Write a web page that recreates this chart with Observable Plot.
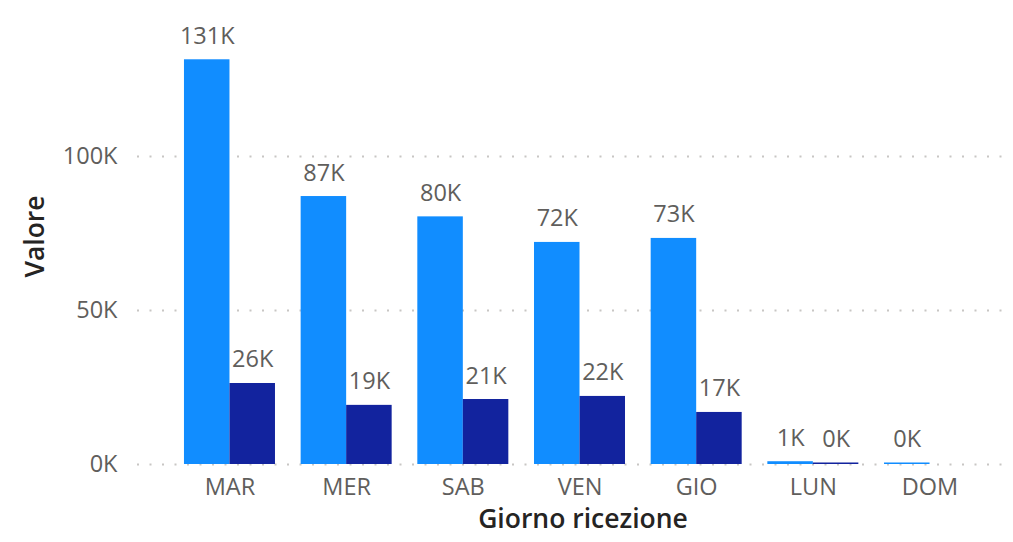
<!DOCTYPE html>
<html>
<head>
<meta charset="utf-8">
<script src="https://cdn.jsdelivr.net/npm/d3@7"></script>
<script src="https://cdn.jsdelivr.net/npm/@observablehq/plot@0.6"></script>
<style>
  html, body { margin: 0; padding: 0; background: #fff; }
  #chart svg { display: block; }
</style>
</head>
<body>
<div id="chart"></div>
<script>
// Data
const days = ["MAR", "MER", "SAB", "VEN", "GIO", "LUN", "DOM"];
const seriesA = [131400, 87000, 80400, 72100, 73400, 900, 490];   // light blue
const seriesB = [26300, 19200, 21100, 22100, 16900, 490, null];   // dark blue
const yTicks = [0, 50000, 100000];
const xTitle = "Giorno ricezione";
const yTitle = "Valore";

const rowsA = days.map((d, i) => ({day: d, value: seriesA[i]})).filter(r => r.value != null);
const rowsB = days.map((d, i) => ({day: d, value: seriesB[i]})).filter(r => r.value != null);

const fmtK = v => Math.round(v / 1000) + "K";
const FONT = "'Open Sans', 'Noto Sans', sans-serif";
const half = 45.5;

const chart = Plot.plot({
  width: 1013,
  height: 542,
  marginLeft: 137,
  marginRight: 5,
  marginTop: 8,
  marginBottom: 78,
  style: {fontFamily: FONT, fontSize: "23.5px", color: "#605E5C", background: "#fff"},
  x: {domain: days, range: [158.3, 1000.7], padding: 0.22, round: false, tickSize: 0, tickPadding: 14, label: null},
  y: {domain: [0, 148050], ticks: yTicks, tickFormat: fmtK, tickSize: 0, tickPadding: 20, label: null},
  marks: [
    Plot.ruleY(yTicks, {stroke: "#C8C6C4", strokeWidth: 2, strokeDasharray: "2 10.5"}),
    Plot.barY(rowsA, {x: "day", y: "value", fill: "#118DFF", insetRight: half}),
    Plot.barY(rowsB, {x: "day", y: "value", fill: "#12239E", insetLeft: half}),
    Plot.text(rowsA, {x: "day", y: "value", text: d => fmtK(d.value), dx: -half / 2, dy: -16, lineAnchor: "bottom", fill: "#605E5C", fontSize: 23.5}),
    Plot.text(rowsB, {x: "day", y: "value", text: d => fmtK(d.value), dx: half / 2, dy: -16, lineAnchor: "bottom", fill: "#605E5C", fontSize: 23.5}),
    Plot.text([xTitle], {frameAnchor: "bottom", textAnchor: "middle", dx: 10, dy: 63, lineAnchor: "bottom", fill: "#252423", fontSize: 26.5, fontWeight: 600}),
    Plot.text([yTitle], {frameAnchor: "left", textAnchor: "middle", rotate: -90, dx: -94, lineAnchor: "bottom", fill: "#252423", fontSize: 26.5, fontWeight: 600})
  ]
});
document.getElementById("chart").appendChild(chart);
</script>
</body>
</html>
